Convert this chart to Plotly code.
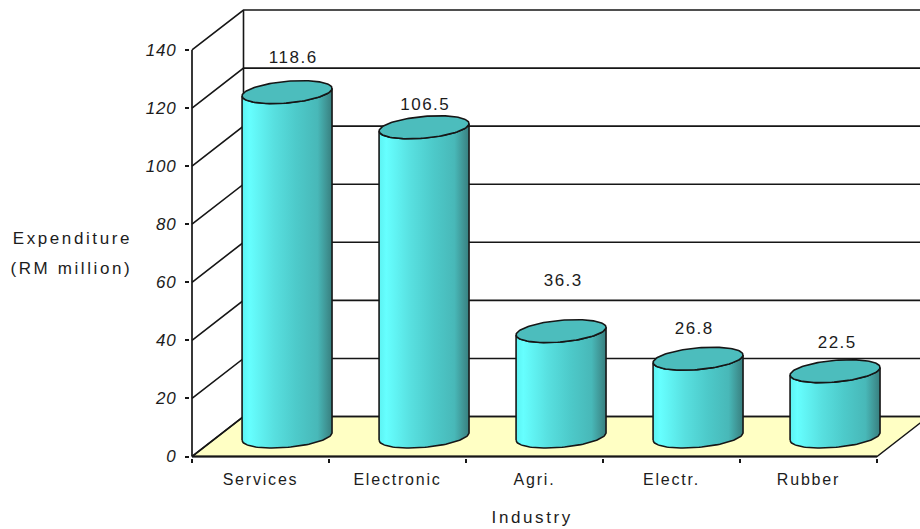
import numpy as np
import plotly.graph_objects as go

# Chart data
categories = ["Services", "Electronic", "Agri.", "Electr.", "Rubber"]
expenditure = [118.6, 106.5, 36.3, 26.8, 22.5]
value_ticks = [0, 20, 40, 60, 80, 100, 120, 140]

# Page geometry, in pixels
WIDTH, HEIGHT = 920, 529
SLOT_PX = 137.0        # width of one category on the front edge
UNIT_PX = 2.907        # height of one expenditure unit
FRONT_LEFT_PX = 192    # where the front left corner sits
ZERO_PX = 457          # where value 0 sits on the front edge
PLOT_LEFT, PLOT_TOP, PLOT_BOTTOM = 190, 5, 458.5

# Oblique depth of the box, in axis units
DEPTH_X = 51.5 / SLOT_PX
DEPTH_Y = 40 / UNIT_PX

# Cylinder footprint
RADIUS_X = 0.31
RADIUS_DEPTH = 0.2875
CYLINDER_NUDGE = 0.8 / SLOT_PX

INK = "#161616"
TEXT = "#1c1c1c"
FLOOR = "#FFFFC4"
TOP_FILL = "#4CBDBD"
BODY_SCALE = [
    [0.00, "#5CF2F2"], [0.08, "#66FFFF"], [0.35, "#58E0E0"], [0.60, "#4DCACA"],
    [0.84, "#48B8B8"], [0.94, "#3F9494"], [1.00, "#377F7F"],
]

# Small nudges (px) that lift each value label off its cylinder
label_shift_x = [7, 2, 3, -3, 3]
label_shift_y = [33, 22, 49, 29, 27]


def project(slot, value, depth):
    """Oblique projection from box coordinates to axis coordinates."""
    return slot + depth * DEPTH_X, value + depth * DEPTH_Y


def polyline(points, **kw):
    xs, ys = zip(*points)
    return go.Scatter(x=xs, y=ys, mode="lines", hoverinfo="skip", showlegend=False, **kw)


left_slot = -0.5
right_slot = len(categories) - 0.5
far_slot = left_slot + 760 / SLOT_PX
traces = []

# Floor of the box
floor = [project(left_slot, 0, 0), project(left_slot, 0, 1),
         project(right_slot, 0, 1), project(right_slot, 0, 0), project(left_slot, 0, 0)]
traces.append(polyline(floor, fill="toself", fillcolor=FLOOR, line=dict(color=INK, width=1.4)))

# Gridlines wrapping the side and back walls
for v in value_ticks:
    traces.append(polyline([project(left_slot, v, 0), project(left_slot, v, 1),
                            project(far_slot, v, 1)], line=dict(color=INK, width=1.6)))
traces.append(polyline([project(left_slot, 0, 1), project(left_slot, value_ticks[-1], 1)],
                       line=dict(color=INK, width=1.6)))
traces.append(polyline([project(left_slot, 0, 0), project(left_slot, value_ticks[-1], 0)],
                       line=dict(color=INK, width=1.7)))
traces.append(polyline([project(left_slot, 0, 0), project(right_slot, 0, 0)],
                       line=dict(color=INK, width=1.8)))

# Cylinders
turn = np.arctan2(RADIUS_DEPTH * DEPTH_X, RADIUS_X)


def rim(i, value, angles):
    slot = i + CYLINDER_NUDGE + RADIUS_X * np.cos(angles)
    depth = 0.5 + RADIUS_DEPTH * np.sin(angles)
    return project(slot, value, depth)


front_arc = np.linspace(turn - np.pi, turn, 60)
full_circle = np.linspace(0, 2 * np.pi, 121)
for i, value in enumerate(expenditure):
    bx, by = rim(i, 0, front_arc)
    tx, ty = rim(i, value, front_arc[::-1])
    traces.append(go.Scatter(
        x=np.r_[bx, tx, bx[0]], y=np.r_[by, ty, by[0]], mode="lines", fill="toself",
        fillgradient=dict(type="horizontal", colorscale=BODY_SCALE),
        line=dict(color=INK, width=1.6), hoverinfo="skip", showlegend=False,
    ))
    cx, cy = rim(i, value, full_circle)
    traces.append(go.Scatter(
        x=cx, y=cy, mode="lines", fill="toself", fillcolor=TOP_FILL,
        line=dict(color=INK, width=1.6), hoverinfo="skip", showlegend=False,
    ))

# Value labels above the cylinders
centres = [project(i, v, 0.5) for i, v in enumerate(expenditure)]
traces.append(go.Scatter(
    x=[c[0] + dx / SLOT_PX for c, dx in zip(centres, label_shift_x)],
    y=[c[1] + dy / UNIT_PX for c, dy in zip(centres, label_shift_y)],
    mode="text", text=[f"{v:.1f}" for v in expenditure], textposition="middle center",
    textfont=dict(family="Liberation Sans", size=17, color=TEXT),
    hoverinfo="skip", showlegend=False,
))

fig = go.Figure(traces)


def page_x(px):
    return (px - PLOT_LEFT) / (WIDTH - PLOT_LEFT)


def page_y(px):
    return (PLOT_BOTTOM - px) / (PLOT_BOTTOM - PLOT_TOP)


axis_titles = [("Expenditure", 72, 239), ("(RM million)", 71, 269), ("Industry", 532, 518)]

fig.update_layout(
    width=WIDTH, height=HEIGHT,
    margin=dict(l=PLOT_LEFT, r=0, t=PLOT_TOP, b=HEIGHT - PLOT_BOTTOM, pad=0),
    paper_bgcolor="white", plot_bgcolor="white",
    showlegend=False, hovermode=False,
    xaxis=dict(
        range=[left_slot - (FRONT_LEFT_PX - PLOT_LEFT) / SLOT_PX,
               left_slot + (WIDTH - FRONT_LEFT_PX) / SLOT_PX],
        tickmode="array", tickvals=list(range(len(categories))), ticktext=categories,
        ticks="", showgrid=False, zeroline=False, showline=False,
        tickfont=dict(family="Liberation Sans", size=16, color=TEXT),
        ticklabelstandoff=10,
        minor=dict(tickmode="array", tickvals=[i - 0.5 for i in range(len(categories) + 1)],
                   ticks="outside", ticklen=4, tickwidth=1.5, tickcolor=INK, showgrid=False),
    ),
    yaxis=dict(
        range=[(ZERO_PX - PLOT_BOTTOM) / UNIT_PX, (ZERO_PX - PLOT_TOP) / UNIT_PX],
        tickmode="array", tickvals=value_ticks,
        ticks="outside", ticklen=4, tickwidth=1.5, tickcolor=INK,
        showgrid=False, zeroline=False, showline=False,
        tickfont=dict(family="Liberation Sans", size=17, color=TEXT, style="italic"),
        ticklabelstandoff=5,
    ),
    annotations=[
        dict(text=t, xref="paper", yref="paper", x=page_x(x), y=page_y(y),
             xanchor="center", yanchor="middle", showarrow=False,
             font=dict(family="Liberation Sans", size=17, color=TEXT))
        for t, x, y in axis_titles
    ],
)

# The lettering of this chart is set wide, which only CSS can express
wide_text = """
const wide = document.createElement('style');
wide.textContent = '.xtick text{letter-spacing:1.8px}.ytick text{letter-spacing:0.8px}'
  + '.annotation-text{letter-spacing:2.6px}.textpoint text{letter-spacing:1.5px}';
document.head.appendChild(wide);
"""
fig.write_html("out.html", post_script=wide_text, config=dict(displayModeBar=False))
